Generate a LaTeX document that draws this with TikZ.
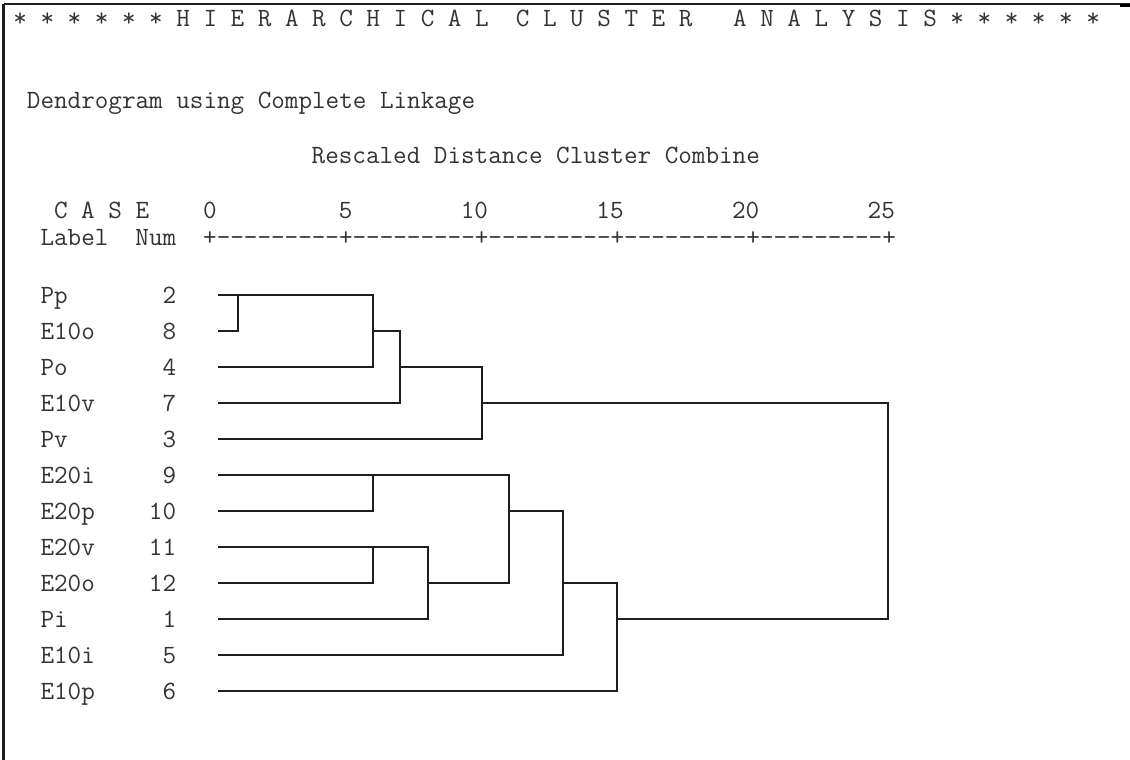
\documentclass[tikz,border=0pt]{standalone}
\usepackage{fontspec}
\definecolor{inkline}{HTML}{1E1E1E}
\definecolor{inktext}{HTML}{333333}
\tikzset{
  txt/.style={anchor=base west, inner sep=0pt, outer sep=0pt, text=inktext,
    font=\ttfamily\fontsize{26.37}{30}\selectfont},
  txtr/.style={txt, anchor=base east},
  dline/.style={draw=inkline, line width=1.6pt, line join=miter},
  frameline/.style={draw=inkline, line width=1.8pt},
}
\begin{document}
\begin{tikzpicture}[x=1pt,y=-1pt]
\useasboundingbox (0,0) rectangle (1130,760);
\fill[white] (0,0) rectangle (1130,760);
% frame
\coordinate (FR) at (1130,4);
\coordinate (FL) at (3.5,4);
\coordinate (FB) at (3.5,760);
\draw[frameline] (FR) -- (FL);
\draw[frameline, line width=2.6pt] (FL) -- (FB);
\coordinate (TRa) at (1120,5.5);
\coordinate (TRb) at (1130,5.5);
\draw[draw=black, line width=3pt] (TRa) -- (TRb);
% header texts (column x = 13.4 + 13.56*c)
\node[txt] (title) at ({13.4+13.56*0},27) {* * * * * * H I E R A R C H I C A L~~C L U S T E R~~~A N A L Y S I S * * * * * *};
\node[txt] (dendro) at ({13.4+13.56*1},108) {Dendrogram using Complete Linkage};
\node[txt] (rescaled) at ({13.4+13.56*22},163) {Rescaled Distance Cluster Combine};
\node[txt] (case) at ({13.4+13.56*3},218) {C A S E};
\node[txt] (n0) at ({13.4+13.56*14},218) {0};
\node[txt] (n5) at ({13.4+13.56*24},218) {5};
\node[txt] (n10) at ({13.4+13.56*33},218) {10};
\node[txt] (n15) at ({13.4+13.56*43},218) {15};
\node[txt] (n20) at ({13.4+13.56*53},218) {20};
\node[txt] (n25) at ({13.4+13.56*63},218) {25};
\node[txt] (label) at ({13.4+13.56*2},245) {Label};
\node[txt] (num) at ({13.4+13.56*9},245) {Num};
\node[txt] (axis) at ({13.4+13.56*14},245) {+---------+---------+---------+---------+---------+};
% case rows
\foreach \nm/\nb [count=\k from 0] in {Pp/2,E10o/8,Po/4,E10v/7,Pv/3,E20i/9,E20p/10,E20v/11,E20o/12,Pi/1,E10i/5,E10p/6}{
  \node[txt] (name\k) at ({13.4+13.56*2},{303+36*\k}) {\nm};
  \node[txtr] (num\k) at ({13.4+13.56*12},{303+36*\k}) {\nb};
  \coordinate (L\k) at (218,{295+36*\k});
}
% merge points
\coordinate (A) at (238,{295+36*0});
\coordinate (B) at (373,{295+36*1});
\coordinate (C) at (400,{295+36*2});
\coordinate (D) at (482,{295+36*3});
\coordinate (E) at (373,{295+36*5});
\coordinate (F) at (373,{295+36*7});
\coordinate (G) at (428,{295+36*8});
\coordinate (H) at (509,{295+36*6});
\coordinate (I) at (563,{295+36*8});
\coordinate (J) at (617,{295+36*9});
\coordinate (K) at (888,{295+36*3});
% dendrogram
\draw[dline] (L0) -| (A) |- (L1);
\draw[dline] (A) -| (B) |- (L2);
\draw[dline] (B) -| (C) |- (L3);
\draw[dline] (C) -| (D) |- (L4);
\draw[dline] (L5) -| (E) |- (L6);
\draw[dline] (L7) -| (F) |- (L8);
\draw[dline] (F) -| (G) |- (L9);
\draw[dline] (E) -| (H) |- (G);
\draw[dline] (H) -| (I) |- (L10);
\draw[dline] (I) -| (J) |- (L11);
\draw[dline] (D) -| (K) |- (J);
\end{tikzpicture}
\end{document}
